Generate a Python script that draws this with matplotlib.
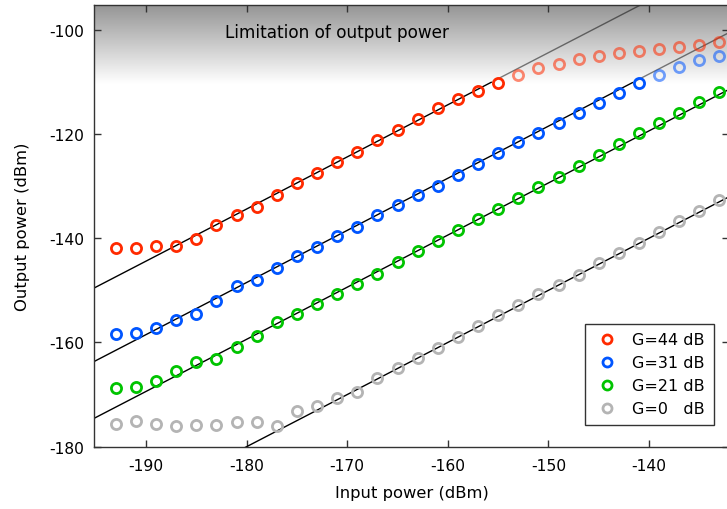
# Output power versus input power for several amplifier gains
import numpy as np
import matplotlib.pyplot as plt
from matplotlib.lines import Line2D

# input power points (dBm), every 2 dB
x_in = np.arange(-193, -132, 2)

# measured output power (dBm) for each gain
p_g44 = [-141.9, -141.9, -141.5, -141.5, -140.2, -137.4, -135.5, -134.0, -131.8, -129.4,
         -127.5, -125.4, -123.4, -121.2, -119.2, -117.1, -115.1, -113.2, -111.7, -110.2,
         -108.7, -107.3, -106.5, -105.6, -105.0, -104.5, -104.0, -103.7, -103.3, -102.9,
         -102.4]
p_g31 = [-158.4, -158.2, -157.3, -155.7, -154.5, -152.0, -149.2, -148.0, -145.7, -143.5,
         -141.6, -139.6, -137.8, -135.6, -133.7, -131.7, -129.9, -127.8, -125.7, -123.7,
         -121.6, -119.8, -117.9, -115.9, -114.1, -112.1, -110.2, -108.7, -107.2, -105.9,
         -105.0]
p_g21 = [-168.8, -168.6, -167.4, -165.5, -163.8, -163.2, -160.9, -158.8, -156.0, -154.6,
         -152.6, -150.8, -148.8, -146.8, -144.6, -142.5, -140.5, -138.4, -136.4, -134.4,
         -132.2, -130.1, -128.2, -126.1, -124.1, -121.9, -119.9, -117.9, -115.9, -113.9,
         -112.0]
p_g0 = [-175.6, -175.1, -175.6, -176.0, -175.8, -175.8, -175.3, -175.3, -176.0, -173.2,
        -172.1, -170.7, -169.5, -166.8, -165.0, -162.9, -161.0, -158.9, -156.8, -154.7,
        -152.8, -150.8, -149.0, -147.0, -144.8, -142.9, -140.9, -138.9, -136.7, -134.7,
        -132.7]

series = [p_g44, p_g31, p_g21, p_g0]
labels = ['G=44 dB', 'G=31 dB', 'G=21 dB', 'G=0   dB']
colors = ['#ff2a00', '#0055ff', '#00c400', '#b4b4b4']
# offsets of the slope-1 fit lines (dB)
fit_offsets = [45.6, 31.5, 20.6, 0.0]

limit_level = -110  # above this the output is limited

plt.rcParams['font.family'] = 'DejaVu Sans'
plt.rcParams['axes.unicode_minus'] = False

fig = plt.figure(figsize=(7.27, 5.10), dpi=100)
ax = fig.add_axes([0.1293, 0.1222, 0.8735, 0.866])
ax.set_xlim(-195.17, -132.05)
ax.set_ylim(-180, -95.26)

# gray gradient band at the top
grad = np.linspace(1.0, 0.58, 200).reshape(-1, 1)
ax.imshow(grad, cmap='gray', vmin=0, vmax=1, aspect='auto', origin='lower',
          extent=[-195.17, -132.05, -110.5, -95.26], zorder=0)
ax.text(-182.1, -100.5, 'Limitation of output power', fontsize=12.2, va='center')

# fit lines, faded where they enter the limited region
xl = np.linspace(-200, -120, 400)
for off in fit_offsets:
    yl = xl + off
    low = yl <= limit_level
    ax.plot(xl[low], yl[low], color='black', lw=1.0, zorder=2)
    ax.plot(xl[~low], yl[~low], color='black', lw=1.0, alpha=0.5, zorder=2)

# measured points, faded inside the limited region
for vals, col in zip(series, colors):
    vals = np.array(vals)
    low = vals <= limit_level
    ax.plot(x_in[low], vals[low], 'o', mfc='none', mec=col, ms=7.3, mew=2.0, zorder=3)
    ax.plot(x_in[~low], vals[~low], 'o', mfc='none', mec=col, ms=7.3, mew=2.0,
            alpha=0.55, zorder=3)

ax.set_xticks([-190, -180, -170, -160, -150, -140])
ax.set_yticks([-180, -160, -140, -120, -100])
ax.tick_params(direction='in', top=True, right=True, length=5, width=1,
               labelsize=11.2, color='#333333')
ax.tick_params(axis='x', pad=8)
ax.tick_params(axis='y', pad=7)
for sp in ax.spines.values():
    sp.set_color('#333333')
    sp.set_linewidth(1.0)

ax.set_xlabel('Input power (dBm)', fontsize=11.8, labelpad=9)
ax.set_ylabel('Output power (dBm)', fontsize=11.8, labelpad=14)

handles = [Line2D([], [], ls='none', marker='o', mfc='none', mec=c, ms=6.5, mew=2.0)
           for c in colors]
leg = ax.legend(handles, labels, loc='lower right', bbox_to_anchor=(0.976, 0.049),
                borderaxespad=0, fontsize=11.5, frameon=True, fancybox=False,
                handletextpad=0.8, borderpad=0.55, labelspacing=0.5, handlelength=1.6)
leg.get_frame().set_edgecolor('black')
leg.get_frame().set_linewidth(1.0)

fig.savefig('out.png', dpi=100)
